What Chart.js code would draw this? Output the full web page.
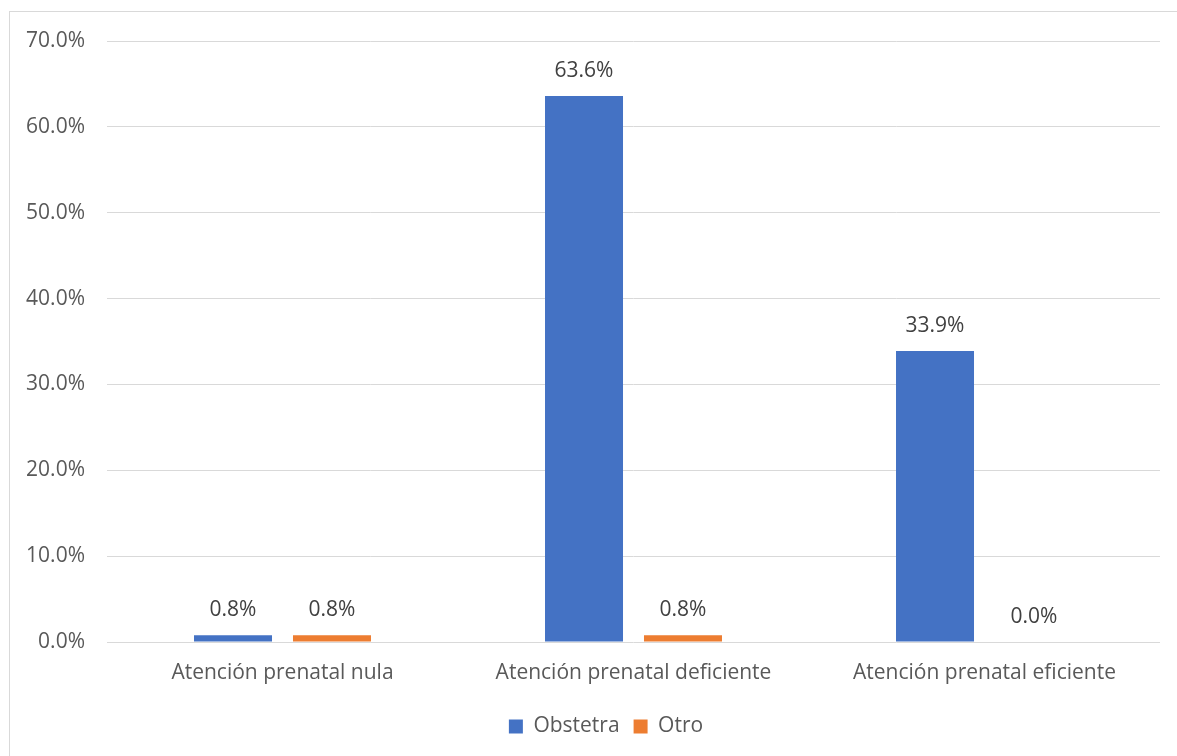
<!DOCTYPE html>
<html lang="es">
<head>
    <meta charset="UTF-8">
    <title>Atención prenatal</title>
    <script src="https://cdn.jsdelivr.net/npm/chart.js"></script>
    <style>
        html, body { margin: 0; padding: 0; background: #ffffff; }
        #wrap { position: relative; width: 1177px; height: 756px; }
    </style>
</head>
<body>
<div id="wrap"><canvas id="chart"></canvas></div>

<script>
    const categories = ['Atención prenatal nula', 'Atención prenatal deficiente', 'Atención prenatal eficiente'];
    const obstetra = [0.8, 63.6, 33.9];
    const otro = [0.8, 0.8, 0.0];
    const seriesNames = ['Obstetra', 'Otro'];

    const FONT = '"Open Sans", "Noto Sans", sans-serif';
    const SIZE = 21;

    // outer frame like the Excel chart border
    const framePlugin = {
        id: 'frame',
        beforeDraw(chart) {
            const ctx = chart.ctx;
            ctx.save();
            ctx.strokeStyle = '#d9d9d9';
            ctx.lineWidth = 1;
            ctx.strokeRect(9.5, 11.5, 1300, 900);
            ctx.restore();
        }
    };

    // the legend in the original is centred on the (wider) chart frame, not the canvas
    const legendShift = {
        id: 'legendShift',
        afterLayout(chart) {
            if (chart.legend) {
                chart.legend.left += 26;
                chart.legend.right += 26;
            }
        }
    };

    // value labels above every bar
    const valueLabels = {
        id: 'valueLabels',
        afterDatasetsDraw(chart) {
            const ctx = chart.ctx;
            ctx.save();
            ctx.font = SIZE + 'px ' + FONT;
            ctx.fillStyle = '#404040';
            ctx.textAlign = 'center';
            ctx.textBaseline = 'middle';
            chart.data.datasets.forEach((ds, i) => {
                chart.getDatasetMeta(i).data.forEach((bar, j) => {
                    ctx.fillText(ds.data[j].toFixed(1) + '%', bar.x, bar.y - 25);
                });
            });
            ctx.restore();
        }
    };

    new Chart(document.getElementById('chart'), {
        type: 'bar',
        data: {
            labels: categories,
            datasets: [
                { label: seriesNames[0], data: obstetra, backgroundColor: '#4472C4' },
                { label: seriesNames[1], data: otro, backgroundColor: '#ED7D31' }
            ]
        },
        options: {
            responsive: true,
            maintainAspectRatio: false,
            animation: false,
            categoryPercentage: 0.564,
            barPercentage: 0.788,
            layout: { padding: { top: 41, right: 17, bottom: 9, left: 0 } },
            scales: {
                x: {
                    grid: { display: false, drawTicks: false },
                    border: { display: false },
                    ticks: { color: '#595959', font: { family: FONT, size: SIZE }, padding: 18, maxRotation: 0 },
                    afterFit(scale) { scale.height = 60; }
                },
                y: {
                    min: 0,
                    max: 70,
                    grid: { color: '#d9d9d9', drawTicks: false },
                    border: { display: false },
                    ticks: {
                        stepSize: 10,
                        color: '#595959',
                        font: { family: FONT, size: SIZE },
                        padding: 22,
                        callback: v => v.toFixed(1) + '%'
                    },
                    afterFit(scale) { scale.width = 107; }
                }
            },
            plugins: {
                legend: {
                    position: 'bottom',
                    labels: {
                        color: '#595959',
                        font: { family: FONT, size: SIZE },
                        boxWidth: 14,
                        boxHeight: 14,
                        padding: 14
                    }
                },
                tooltip: { enabled: false }
            }
        },
        plugins: [framePlugin, legendShift, valueLabels]
    });
</script>
</body>
</html>
